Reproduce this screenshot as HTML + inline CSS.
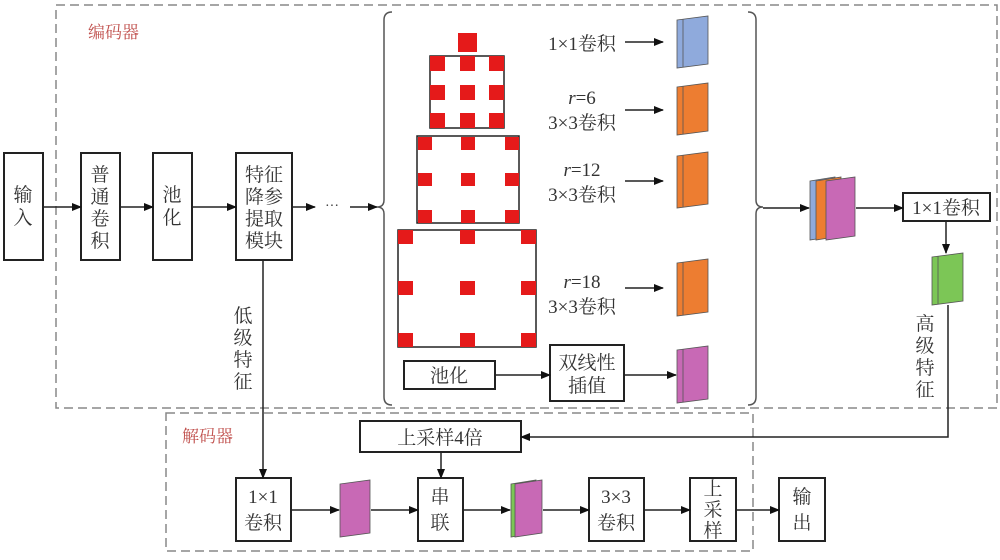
<!DOCTYPE html>
<html><head><meta charset="utf-8"><style>
body{margin:0;background:#fff}
svg text{font-family:"Liberation Serif","Noto Serif CJK SC",serif;fill:#333}
</style></head><body>
<svg width="1000" height="555" viewBox="0 0 1000 555" xmlns="http://www.w3.org/2000/svg">
<defs>
<marker id="a" markerWidth="10" markerHeight="8" refX="9" refY="4" orient="auto" markerUnits="userSpaceOnUse"><path d="M0,0 L10,4 L0,8 Z" fill="#111"/></marker>
</defs>
<g fill="none" stroke="#888" stroke-width="1.5" stroke-dasharray="9,5">
<rect x="56" y="5" width="941" height="403"/>
<rect x="166" y="413" width="587" height="138"/>
</g>
<text x="88" y="38" font-size="17" style="fill:#c0504d">编码器</text>
<text x="182" y="442" font-size="17" style="fill:#c0504d">解码器</text>

<g fill="#fff" stroke="#222" stroke-width="2">
<rect x="4" y="153" width="39" height="107"/>
<rect x="81" y="153" width="39" height="107"/>
<rect x="153" y="153" width="39" height="107"/>
<rect x="236" y="153" width="56" height="107"/>
<rect x="404" y="361" width="91" height="28"/>
<rect x="550" y="345" width="74" height="56"/>
<rect x="903" y="193" width="87" height="28"/>
<rect x="360" y="421" width="161" height="31"/>
<rect x="236" y="478" width="55" height="63"/>
<rect x="418" y="478" width="45" height="63"/>
<rect x="589" y="478" width="55" height="63"/>
<rect x="690" y="478" width="46" height="63"/>
<rect x="779" y="478" width="46" height="63"/>
</g>
<g font-size="19" text-anchor="middle">
<text x="23" y="201">输</text><text x="23" y="224">入</text>
<text x="100" y="181">普</text><text x="100" y="203">通</text><text x="100" y="225">卷</text><text x="100" y="247">积</text>
<text x="172" y="201">池</text><text x="172" y="224">化</text>
<text x="264" y="181">特征</text><text x="264" y="203">降参</text><text x="264" y="225">提取</text><text x="264" y="247">模块</text>
<text x="243" y="322">低</text><text x="243" y="344">级</text><text x="243" y="366">特</text><text x="243" y="388">征</text>
<text x="925" y="330">高</text><text x="925" y="352">级</text><text x="925" y="374">特</text><text x="925" y="396">征</text>
<text x="449" y="382">池化</text>
<text x="587" y="369">双线性</text><text x="587" y="392">插值</text>
<text x="946" y="214">1×1卷积</text>
<text x="440" y="444">上采样4倍</text>
<text x="263" y="503">1×1</text><text x="263" y="529">卷积</text>
<text x="440" y="503">串</text><text x="440" y="529">联</text>
<text x="616" y="503">3×3</text><text x="616" y="529">卷积</text>
<text x="713" y="495">上</text><text x="713" y="516">采</text><text x="713" y="537">样</text>
<text x="802" y="503">输</text><text x="802" y="529">出</text>
<text x="582" y="50">1×1卷积</text>
<text x="582" y="104"><tspan font-style="italic">r</tspan>=6</text><text x="582" y="129">3×3卷积</text>
<text x="582" y="176"><tspan font-style="italic">r</tspan>=12</text><text x="582" y="201">3×3卷积</text>
<text x="582" y="288"><tspan font-style="italic">r</tspan>=18</text><text x="582" y="313">3×3卷积</text>
</g>
<text x="332" y="210" font-size="14" text-anchor="middle">···</text>

<g stroke="#222" stroke-width="1.5" fill="none" marker-end="url(#a)">
<line x1="43" y1="207" x2="81" y2="207"/>
<line x1="120" y1="207" x2="153" y2="207"/>
<line x1="192" y1="207" x2="236" y2="207"/>
<line x1="292" y1="207" x2="315" y2="207"/>
<line x1="350" y1="207" x2="377" y2="207"/>
<line x1="625" y1="42" x2="663" y2="42"/>
<line x1="625" y1="110" x2="663" y2="110"/>
<line x1="625" y1="181" x2="663" y2="181"/>
<line x1="625" y1="288" x2="663" y2="288"/>
<line x1="495" y1="375" x2="550" y2="375"/>
<line x1="624" y1="375" x2="676" y2="375"/>
<line x1="763" y1="208" x2="809" y2="208"/>
<line x1="856" y1="208" x2="903" y2="208"/>
<line x1="946" y1="221" x2="946" y2="253"/>
<polyline points="948,305 948,437 521,437"/>
<line x1="263" y1="260" x2="263" y2="478"/>
<line x1="441" y1="452" x2="441" y2="478"/>
<line x1="291" y1="510" x2="339" y2="510"/>
<line x1="371" y1="510" x2="418" y2="510"/>
<line x1="463" y1="510" x2="510" y2="510"/>
<line x1="543" y1="510" x2="589" y2="510"/>
<line x1="644" y1="510" x2="690" y2="510"/>
<line x1="736" y1="510" x2="779" y2="510"/>
</g>
<g stroke="#555" stroke-width="1.5" fill="none">
<path d="M392,12 Q384,12 384,20 L384,200 Q384,207 377,207 Q384,207 384,214 L384,397 Q384,405 392,405"/>
<path d="M748,12 Q756,12 756,20 L756,200 Q756,207 763,207 Q756,207 756,214 L756,397 Q756,405 748,405"/>
</g>
<g fill="#fff" stroke="#222" stroke-width="1.5">
<rect x="430" y="56" width="74" height="72"/>
<rect x="417" y="136" width="102" height="87"/>
<rect x="398" y="230" width="138" height="117"/>
</g>
<g fill="#e51a1a">
<rect x="458" y="33" width="19" height="19"/>
<rect x="430" y="56" width="15" height="15"/><rect x="460" y="56" width="15" height="15"/><rect x="489" y="56" width="15" height="15"/>
<rect x="430" y="85" width="15" height="15"/><rect x="460" y="85" width="15" height="15"/><rect x="489" y="85" width="15" height="15"/>
<rect x="430" y="113" width="15" height="15"/><rect x="460" y="113" width="15" height="15"/><rect x="489" y="113" width="15" height="15"/>
<rect x="418" y="137" width="14" height="13"/><rect x="461" y="137" width="14" height="13"/><rect x="505" y="137" width="14" height="13"/>
<rect x="418" y="173" width="14" height="13"/><rect x="461" y="173" width="14" height="13"/><rect x="505" y="173" width="14" height="13"/>
<rect x="418" y="210" width="14" height="13"/><rect x="461" y="210" width="14" height="13"/><rect x="505" y="210" width="14" height="13"/>
<rect x="398" y="230" width="15" height="14"/><rect x="460" y="230" width="15" height="14"/><rect x="521" y="230" width="15" height="14"/>
<rect x="398" y="281" width="15" height="14"/><rect x="460" y="281" width="15" height="14"/><rect x="521" y="281" width="15" height="14"/>
<rect x="398" y="333" width="15" height="14"/><rect x="460" y="333" width="15" height="14"/><rect x="521" y="333" width="15" height="14"/>
</g>
<g stroke="#555" stroke-width="0.8">
<polygon points="677,20 708,16 708,64 677,68" fill="#8faadc"/><line x1="683" y1="19" x2="683" y2="67"/>
<polygon points="677,87 708,83 708,131 677,135" fill="#ed7d31"/><line x1="683" y1="86" x2="683" y2="134"/>
<polygon points="677,156 708,152 708,204 677,208" fill="#ed7d31"/><line x1="683" y1="155" x2="683" y2="207"/>
<polygon points="677,263 708,259 708,312 677,316" fill="#ed7d31"/><line x1="683" y1="262" x2="683" y2="315"/>
<polygon points="677,350 708,346 708,399 677,403" fill="#c869b5"/><line x1="683" y1="349" x2="683" y2="402"/>
<polygon points="810,181 835,177 835,236 810,240" fill="#8faadc"/>
<polygon points="816,181 841,177 841,236 816,240" fill="#ed7d31"/>
<polygon points="826,181 855,177 855,236 826,240" fill="#c869b5"/>
<polygon points="932,257 963,253 963,301 932,305" fill="#7cc656"/><line x1="938" y1="256" x2="938" y2="304"/>
<polygon points="340,484 370,480 370,533 340,537" fill="#c869b5"/>
<polygon points="511,484 536,480 536,533 511,537" fill="#7cc656"/>
<polygon points="515,484 542,480 542,533 515,537" fill="#c869b5"/>
</g>
</svg>
</body></html>
